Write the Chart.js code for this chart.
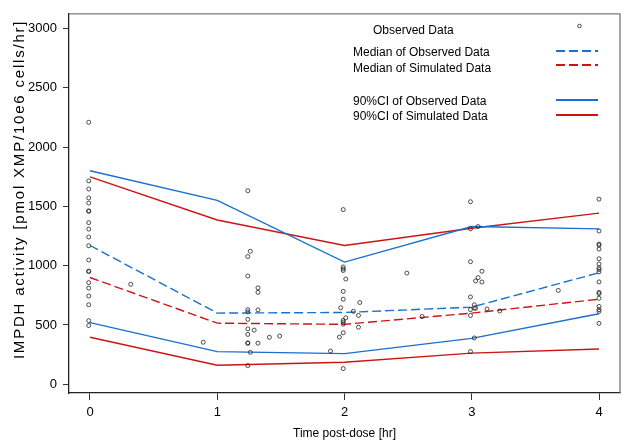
<!DOCTYPE html>
<html>
<head>
<meta charset="utf-8">
<script src="https://cdn.jsdelivr.net/npm/chart.js@4"></script>
<style>
  html, body { margin: 0; padding: 0; background: #fff; }
  #wrap { width: 631px; height: 445px; position: relative; }
</style>
</head>
<body>
<div id="wrap"><canvas id="chart"></canvas></div>
<script>
// time points of the summary curves
const times = [0, 1, 2, 3, 4];

// medians and 90% CI bounds
const medianObserved = [1170, 600, 605, 650, 940];
const medianSimulated = [900, 515, 505, 600, 717];
const ciObservedHigh = [1800, 1550, 1030, 1330, 1310];
const ciObservedLow = [520, 275, 258, 387, 594];
const ciSimulatedHigh = [1748, 1385, 1170, 1315, 1443];
const ciSimulatedLow = [396, 160, 185, 262, 297];

// observed samples: time post-dose and activity
const obsTime = [
    -0.01, -0.01, -0.01, -0.01, -0.01, -0.01, -0.01, -0.01, -0.01, -0.01,
    -0.01, -0.01, -0.01, -0.01, -0.01, -0.01, -0.01, -0.01, -0.01, -0.01,
    0.32, 0.89,
    1.24, 1.26, 1.24, 1.24, 1.32, 1.32, 1.24, 1.24, 1.32, 1.24, 1.24, 1.29, 1.24, 1.41, 1.49, 1.24, 1.24, 1.32, 1.26, 1.24,
    1.99, 1.99, 1.99, 1.99, 2.01, 1.99, 1.99, 2.12, 1.97, 2.07, 2.01, 1.99, 1.99, 1.99, 2.11, 2.11, 1.99, 1.96, 1.89, 1.99,
    2.49, 2.61,
    2.99, 2.99, 3.05, 2.99, 3.08, 3.05, 3.03, 3.08, 2.99, 3.02, 3.02, 3.03, 2.99, 3.12, 3.22, 2.99, 3.02, 2.99,
    3.68,
    4.0, 4.0, 4.0, 4.0, 4.0, 4.0, 4.0, 4.0, 4.0, 4.0, 4.0, 4.0, 4.0, 4.0, 4.0, 4.0, 4.0, 4.0
];
const obsValue = [
    2209, 1715, 1646, 1571, 1528, 1462, 1458, 1363, 1308, 1242,
    1168, 1047, 954, 950, 857, 810, 744, 670, 536, 495,
    843, 354,
    1632, 1121, 1077, 912, 813, 775, 629, 610, 627, 547, 467, 456, 420, 396, 406, 349, 345, 346, 269, 157,
    1473, 989, 973, 959, 887, 783, 717, 689, 645, 615, 560, 538, 524, 507, 580, 481, 434, 398, 280, 132,
    937, 571,
    1539, 1311, 1330, 1033, 953, 899, 871, 862, 736, 670, 643, 640, 629, 635, 618, 580, 390, 275,
    791,
    1561, 1292, 1182, 1173, 1140, 1058, 1014, 981, 967, 948, 863, 775, 764, 725, 656, 629, 615, 513
];

const yTicks = [0, 500, 1000, 1500, 2000, 2500, 3000];
const xTicks = [0, 1, 2, 3, 4];
const yTitle = 'IMPDH activity [pmol XMP/10e6 cells/hr]';

const BLUE = '#1a6fd0';
const RED = '#cc1414';
const FONT = 'Liberation Sans, Arial, sans-serif';

function curve(values) {
    return times.map((t, i) => ({ x: t, y: values[i] }));
}

function lineSet(label, values, color, dashed) {
    return {
        type: 'line',
        label,
        data: curve(values),
        borderColor: color,
        borderWidth: 1.4,
        borderDash: dashed ? [9, 4] : [],
        pointRadius: 0,
        fill: false,
        tension: 0
    };
}

// legend in the top right corner, drawn like the original figure
const legendPlugin = {
    id: 'figLegend',
    afterDraw(chart) {
        const ctx = chart.ctx;
        ctx.save();
        ctx.font = '12px ' + FONT;
        ctx.fillStyle = '#000';
        ctx.textBaseline = 'middle';
        ctx.fillText('Observed Data', 373, 31);
        ctx.fillText('Median of Observed Data', 353, 53);
        ctx.fillText('Median of Simulated Data', 353, 69);
        ctx.fillText('90%CI of Observed Data', 353, 102);
        ctx.fillText('90%CI of Simulated Data', 353, 117);

        ctx.strokeStyle = '#222';
        ctx.lineWidth = 0.8;
        ctx.beginPath();
        ctx.arc(579.5, 26, 1.8, 0, Math.PI * 2);
        ctx.stroke();

        const rows = [
            [51, BLUE, true], [65, RED, true], [100, BLUE, false], [115, RED, false]
        ];
        rows.forEach(([y, color, dashed]) => {
            ctx.strokeStyle = color;
            ctx.lineWidth = 1.8;
            ctx.setLineDash(dashed ? [9, 4] : []);
            ctx.beginPath();
            ctx.moveTo(556, y);
            ctx.lineTo(598, y);
            ctx.stroke();
        });

        // grey top and right frame
        const a = chart.chartArea;
        ctx.setLineDash([]);
        ctx.strokeStyle = '#7a7a7a';
        ctx.lineWidth = 1.3;
        ctx.beginPath();
        ctx.moveTo(a.left, a.top);
        ctx.lineTo(a.right, a.top);
        ctx.lineTo(a.right, a.bottom);
        ctx.stroke();

        // y axis title, letter-spaced like the source figure
        ctx.translate(20, (a.top + a.bottom) / 2 - 14);
        ctx.rotate(-Math.PI / 2);
        ctx.font = '15px ' + FONT;
        ctx.letterSpacing = '1.8px';
        ctx.textAlign = 'center';
        ctx.textBaseline = 'middle';
        ctx.fillText(yTitle, 0, 0);
        ctx.restore();
    }
};

new Chart(document.getElementById('chart'), {
    type: 'scatter',
    data: {
        datasets: [
            {
                label: 'Observed Data',
                data: obsTime.map((t, i) => ({ x: t, y: obsValue[i] })),
                pointRadius: 2,
                pointBorderWidth: 0.8,
                pointBackgroundColor: 'rgba(0,0,0,0)',
                pointBorderColor: '#222',
                showLine: false
            },
            lineSet('Median of Observed Data', medianObserved, BLUE, true),
            lineSet('Median of Simulated Data', medianSimulated, RED, true),
            lineSet('90%CI of Observed Data high', ciObservedHigh, BLUE, false),
            lineSet('90%CI of Observed Data low', ciObservedLow, BLUE, false),
            lineSet('90%CI of Simulated Data high', ciSimulatedHigh, RED, false),
            lineSet('90%CI of Simulated Data low', ciSimulatedLow, RED, false)
        ]
    },
    options: {
        responsive: true,
        maintainAspectRatio: false,
        animation: false,
        layout: { padding: { left: 0, top: 5, right: 11, bottom: 0 } },
        plugins: {
            legend: { display: false },
            tooltip: { enabled: false }
        },
        scales: {
            x: {
                type: 'linear',
                min: -0.165,
                max: 4.165,
                afterBuildTicks: (scale) => { scale.ticks = xTicks.map(v => ({ value: v })); },
                afterFit: (scale) => { scale.height = 52; },
                grid: { drawOnChartArea: false, drawTicks: true, tickLength: 7, color: '#333' },
                border: { color: '#222', width: 1.3 },
                ticks: { color: '#000', font: { family: FONT, size: 13 }, padding: 5 },
                title: {
                    display: true,
                    text: 'Time post-dose [hr]',
                    color: '#000',
                    font: { family: FONT, size: 12 },
                    padding: { top: 0, bottom: 4 }
                }
            },
            y: {
                min: -74,
                max: 3124,
                afterBuildTicks: (scale) => { scale.ticks = yTicks.map(v => ({ value: v })); },
                afterFit: (scale) => { scale.width = 69; },
                grid: { drawOnChartArea: false, drawTicks: true, tickLength: 6, color: '#333' },
                border: { color: '#222', width: 1.3 },
                ticks: {
                    color: '#000',
                    font: { family: FONT, size: 13 },
                    padding: 6,
                    callback: (v) => String(v)
                },
                title: { display: false }
            }
        }
    },
    plugins: [legendPlugin]
});
</script>
</body>
</html>
